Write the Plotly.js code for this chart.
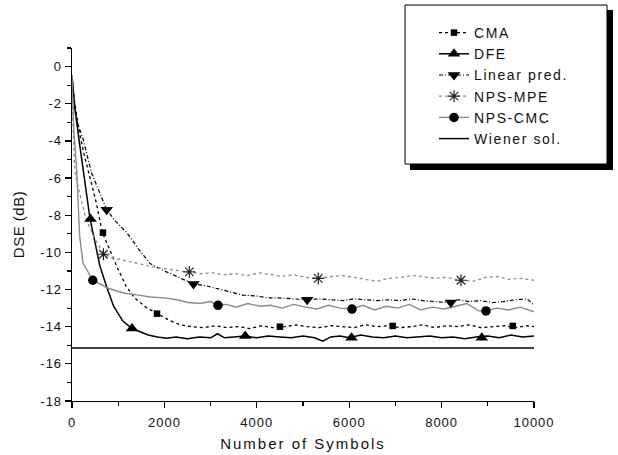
<!DOCTYPE html>
<html>
<head>
<meta charset="utf-8">
<script src="https://cdn.plot.ly/plotly-3.0.1.min.js"></script>
<style>
  html, body { margin: 0; padding: 0; background: #fff; overflow: hidden; }
  #wrap { position: relative; width: 618px; height: 455px; }
  #shadow { position: absolute; left: 410px; top: 10px; width: 203px; height: 160px; background: #000; }
  #chart { position: absolute; left: 0; top: 0; width: 618px; height: 455px; }
  .xtick text, .ytick text { letter-spacing: 1px; }
  .xtitle { letter-spacing: 2px; }
  .ytitle { letter-spacing: 0.5px; }
  .legendtext { letter-spacing: 1.6px; }
</style>
</head>
<body>
<div id="wrap">
  <div id="shadow"></div>
  <div id="chart"></div>
</div>
<script>
// ---- Data ----
const seriesNames = ["CMA", "DFE", "Linear pred.", "NPS-MPE", "NPS-CMC", "Wiener sol."];

const cmaX = [0, 60, 150, 250, 346, 527, 656, 820, 996, 1176, 1357, 1600, 1840, 2100, 2340, 2600, 2840, 3100, 3350, 3600, 3850, 4100, 4350, 4600, 4850, 5100, 5350, 5600, 5850, 6100, 6350, 6600, 6850, 7100, 7350, 7600, 7850, 8100, 8350, 8600, 8850, 9100, 9350, 9600, 9850, 10000];
const cmaY = [-0.5, -2.0, -3.4, -4.6, -5.55, -7.35, -8.93, -9.9, -10.9, -11.84, -12.46, -12.95, -13.3, -13.65, -13.9, -14.0, -14.05, -13.95, -14.05, -14.0, -14.1, -13.95, -14.05, -14.0, -13.9, -14.0, -14.05, -13.95, -14.0, -14.05, -13.9, -14.0, -13.95, -14.05, -14.0, -13.9, -14.05, -13.95, -14.0, -13.9, -14.05, -14.0, -13.95, -14.05, -13.95, -14.0];
const cmaMarkX = [670, 1840, 4500, 6940, 9540];
const cmaMarkY = [-8.94, -13.3, -14.0, -13.96, -13.96];

const dfeX = [0, 60, 150, 240, 390, 460, 600, 750, 900, 1100, 1300, 1500, 1650, 1850, 2050, 2250, 2500, 2750, 3000, 3150, 3300, 3500, 3750, 4000, 4250, 4500, 4750, 5000, 5250, 5430, 5600, 5800, 6000, 6250, 6500, 6750, 7000, 7250, 7500, 7750, 8000, 8250, 8500, 8750, 9000, 9250, 9500, 9750, 10000];
const dfeY = [-0.5, -2.2, -3.9, -5.6, -8.2, -9.0, -10.7, -11.85, -12.9, -13.7, -14.1, -14.3, -14.45, -14.55, -14.62, -14.55, -14.65, -14.55, -14.6, -14.38, -14.6, -14.55, -14.5, -14.6, -14.5, -14.55, -14.6, -14.5, -14.6, -14.78, -14.55, -14.5, -14.6, -14.45, -14.55, -14.6, -14.5, -14.6, -14.55, -14.5, -14.6, -14.55, -14.65, -14.55, -14.5, -14.6, -14.45, -14.55, -14.5];
const dfeMarkX = [400, 1300, 3750, 6050, 8870];
const dfeMarkY = [-8.2, -14.1, -14.5, -14.6, -14.6];

const linX = [0, 50, 100, 240, 420, 750, 950, 1190, 1450, 1690, 2000, 2270, 2630, 2900, 3140, 3400, 3700, 4000, 4250, 4440, 4700, 5090, 5350, 5600, 5870, 6100, 6350, 6600, 6850, 7100, 7350, 7600, 7850, 8100, 8350, 8600, 8850, 9100, 9350, 9600, 9850, 10000];
const linY = [-0.5, -2.0, -2.9, -3.9, -5.7, -7.7, -8.35, -8.95, -9.85, -10.6, -11.0, -11.3, -11.7, -11.8, -11.95, -12.1, -12.3, -12.35, -12.45, -12.45, -12.5, -12.55, -12.5, -12.55, -12.6, -12.5, -12.55, -12.6, -12.55, -12.6, -12.5, -12.6, -12.65, -12.7, -12.55, -12.65, -12.6, -12.7, -12.65, -12.55, -12.5, -12.85];
const linMarkX = [750, 2630, 5090, 8200];
const linMarkY = [-7.7, -11.7, -12.55, -12.7];

const mpeX = [0, 20, 58, 130, 310, 500, 690, 880, 1068, 1400, 1717, 1900, 2200, 2540, 2800, 3050, 3300, 3550, 3800, 4050, 4300, 4550, 4800, 5050, 5330, 5600, 5850, 6100, 6350, 6600, 6850, 7100, 7350, 7600, 7850, 8100, 8420, 8700, 8950, 9200, 9450, 9700, 10000];
const mpeY = [-0.5, -3.0, -5.55, -6.45, -8.25, -9.3, -10.1, -10.3, -10.4, -10.6, -10.76, -10.85, -10.95, -11.05, -11.15, -11.1, -11.2, -11.15, -11.25, -11.1, -11.2, -11.3, -11.2, -11.35, -11.4, -11.3, -11.25, -11.35, -11.45, -11.55, -11.4, -11.35, -11.25, -11.3, -11.4, -11.35, -11.5, -11.55, -11.35, -11.3, -11.45, -11.4, -11.5];
const mpeMarkX = [680, 2540, 5330, 8420];
const mpeMarkY = [-10.1, -11.05, -11.4, -11.5];

const cmcX = [0, 40, 100, 130, 166, 238, 450, 780, 1140, 1450, 1690, 2000, 2270, 2520, 2770, 3000, 3160, 3350, 3550, 3800, 4070, 4300, 4550, 4800, 5050, 5300, 5550, 5800, 6060, 6300, 6550, 6800, 7050, 7300, 7550, 7800, 8050, 8300, 8550, 8800, 8960, 9200, 9450, 9700, 10000];
const cmcY = [-0.5, -3.5, -5.5, -7.35, -9.14, -10.58, -11.5, -11.93, -12.2, -12.3, -12.4, -12.45, -12.55, -12.7, -12.75, -12.65, -12.85, -12.8, -12.95, -12.75, -12.9, -12.85, -13.0, -12.8, -12.95, -13.05, -12.85, -13.0, -13.05, -12.85, -13.1, -12.9, -13.0, -12.8, -13.1, -12.95, -13.05, -12.9, -12.75, -13.15, -13.15, -13.0, -13.1, -12.95, -13.2];
const cmcMarkX = [450, 3160, 6060, 8960];
const cmcMarkY = [-11.5, -12.85, -13.05, -13.15];

const wienerX = [0, 10000];
const wienerY = [-15.15, -15.15];

const xTickVals = [0, 2000, 4000, 6000, 8000, 10000];
const yTickVals = [-18, -16, -14, -12, -10, -8, -6, -4, -2, 0];

// ---- Styles ----
const styles = [
  {line: {color: '#000', width: 1.3, dash: 'dot'}, marker: {symbol: 'square', size: 6.5, color: '#000'}},
  {line: {color: '#000', width: 1.5, dash: 'solid'}, marker: {symbol: 'triangle-up', size: 11, color: '#000'}},
  {line: {color: '#000', width: 1.2, dash: '4px,2px,1px,2px'}, marker: {symbol: 'triangle-down', size: 11, color: '#000'}},
  {line: {color: '#8c8c8c', width: 1.3, dash: 'dot'}, marker: {symbol: 'asterisk-open', size: 10, color: '#222', line: {color: '#222', width: 1.2}}},
  {line: {color: '#8a8a8a', width: 1.4, dash: 'solid'}, marker: {symbol: 'circle', size: 9.5, color: '#000'}},
  {line: {color: '#000', width: 1.5, dash: 'solid'}, marker: null}
];

const lineData = [[cmaX, cmaY], [dfeX, dfeY], [linX, linY], [mpeX, mpeY], [cmcX, cmcY], [wienerX, wienerY]];
const markData = [[cmaMarkX, cmaMarkY], [dfeMarkX, dfeMarkY], [linMarkX, linMarkY], [mpeMarkX, mpeMarkY], [cmcMarkX, cmcMarkY], null];

const traces = [];
for (let i = 0; i < seriesNames.length; i++) {
  traces.push({
    x: lineData[i][0], y: lineData[i][1], type: 'scatter', mode: 'lines',
    line: Object.assign({}, styles[i].line, {shape: 'linear'}),
    showlegend: false, hoverinfo: 'skip'
  });
}
for (let i = 0; i < seriesNames.length; i++) {
  if (!markData[i]) continue;
  traces.push({
    x: markData[i][0], y: markData[i][1], type: 'scatter', mode: 'markers',
    marker: styles[i].marker, showlegend: false, hoverinfo: 'skip'
  });
}
// legend entries (line + marker sample for each series)
for (let i = 0; i < seriesNames.length; i++) {
  const t = {
    x: [null], y: [null], type: 'scatter', name: seriesNames[i],
    mode: styles[i].marker ? 'lines+markers' : 'lines',
    line: styles[i].line, showlegend: true
  };
  if (styles[i].marker) t.marker = styles[i].marker;
  traces.push(t);
}

const L = 72, R = 534, T = 48, B = 401;
const px = v => (v - L) / (R - L);
const py = v => (B - v) / (B - T);

const font = 'Liberation Sans, Arial, sans-serif';

const layout = {
  width: 618, height: 455,
  margin: {l: L, r: 618 - R, t: T, b: 455 - B, pad: 0},
  paper_bgcolor: 'rgba(255,255,255,0)', plot_bgcolor: 'rgba(255,255,255,0)',
  font: {family: font, color: '#111', size: 13},
  xaxis: {
    range: [0, 10000], tickvals: xTickVals, ticktext: xTickVals.map(String),
    showgrid: false, zeroline: false, showline: true, linecolor: '#000', linewidth: 1.3,
    ticks: 'outside', ticklen: 6, tickwidth: 1.3, tickcolor: '#000', ticklabelstandoff: 3,
    minor: {dtick: 1000, tick0: 0, ticks: 'outside', ticklen: 4, tickwidth: 1.2, tickcolor: '#000', showgrid: false},
    tickfont: {family: font, size: 13, color: '#111'},
    title: {text: 'Number of Symbols', font: {family: font, size: 15, color: '#111'}, standoff: 9},
    fixedrange: true
  },
  yaxis: {
    range: [-18, 1], tickvals: yTickVals, ticktext: yTickVals.map(String),
    showgrid: false, zeroline: false, showline: true, linecolor: '#000', linewidth: 1.3,
    ticks: 'outside', ticklen: 6, tickwidth: 1.3, tickcolor: '#000',
    minor: {dtick: 1, tick0: 0, ticks: 'outside', ticklen: 4, tickwidth: 1.2, tickcolor: '#000', showgrid: false},
    tickfont: {family: font, size: 13, color: '#111'},
    title: {text: 'DSE (dB)', font: {family: font, size: 15, color: '#111'}, standoff: 12},
    fixedrange: true
  },
  showlegend: true,
  legend: {
    x: px(434), y: py(17), xanchor: 'left', yanchor: 'top',
    bgcolor: 'rgba(0,0,0,0)', borderwidth: 0,
    font: {family: font, size: 14, color: '#111'},
    traceorder: 'normal'
  },
  shapes: [
    // legend frame (its drop shadow is the #shadow block behind the transparent figure)
    {type: 'rect', xref: 'paper', yref: 'paper', x0: px(405), x1: px(607), y0: py(164), y1: py(5),
     fillcolor: 'rgb(255,255,255)', line: {color: 'rgb(0,0,0)', width: 1}, layer: 'above'}
  ]
};

Plotly.newPlot('chart', traces, layout, {staticPlot: true, displayModeBar: false});
</script>
</body>
</html>
